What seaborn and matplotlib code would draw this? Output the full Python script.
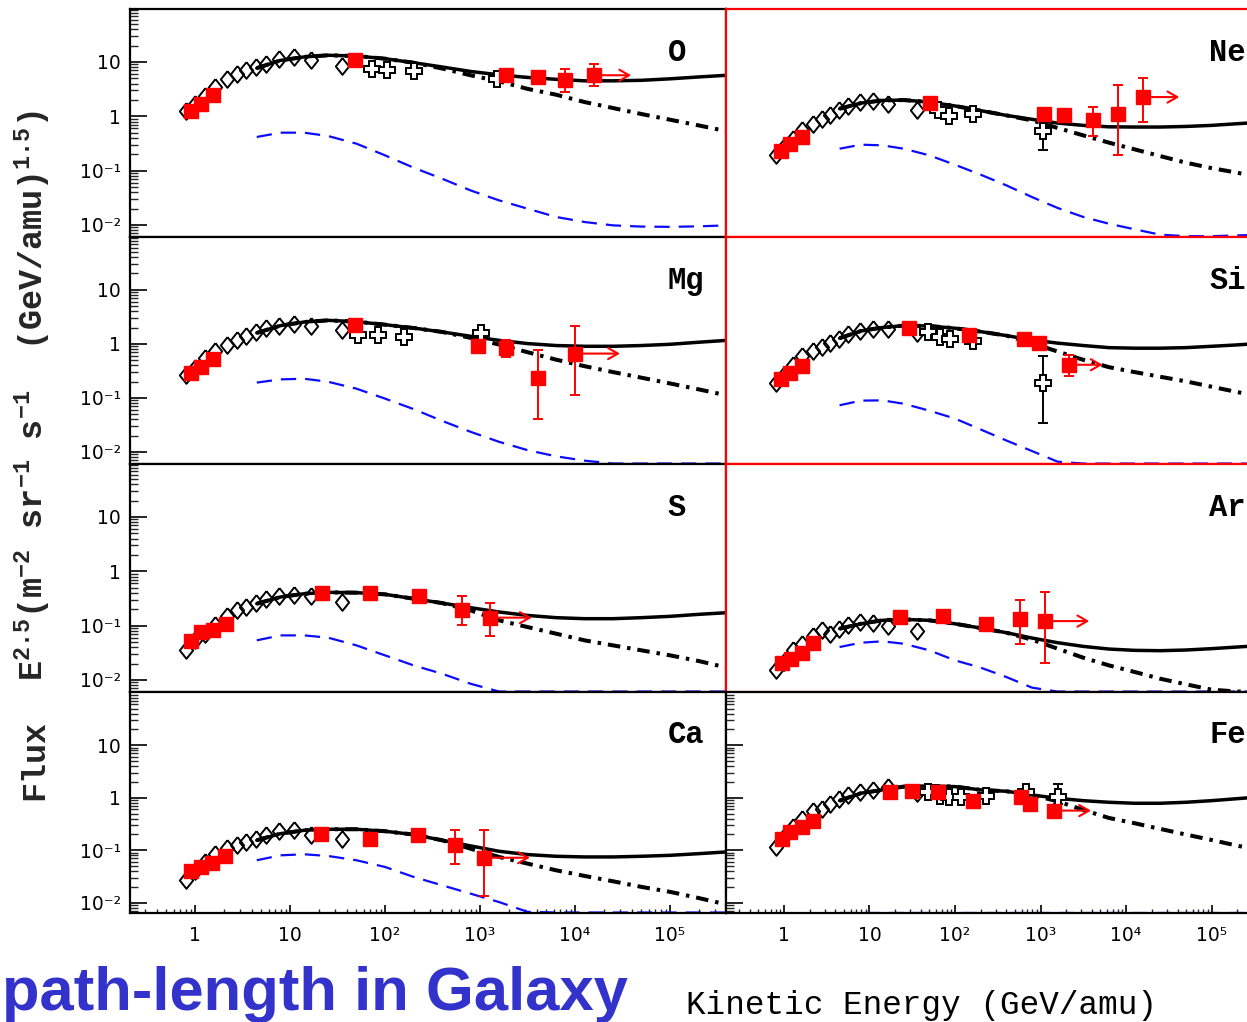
import numpy as np
import matplotlib
matplotlib.use("Agg")
import matplotlib.pyplot as plt
import seaborn as sns
from matplotlib.ticker import LogLocator, NullFormatter

sns.set_theme(style="ticks")
plt.rcParams["font.family"] = ["DejaVu Sans"]
plt.rcParams["mathtext.fontset"] = "custom"
plt.rcParams["mathtext.rm"] = "Liberation Mono:bold"
plt.rcParams["mathtext.it"] = "Liberation Mono:bold"
plt.rcParams["mathtext.bf"] = "Liberation Mono:bold"
plt.rcParams["lines.scale_dashes"] = False

# ---------------- data ----------------
diamond_energy = [0.81, 1.0, 1.26, 1.62, 2.19, 2.75, 3.47, 4.42, 5.57, 7.71, 10.96, 16.5, 35.5]
model_energy = [4.47, 7.94, 14.1, 25.1, 50.1, 100, 200, 398, 794, 1585, 3162, 6310,
                12590, 25120, 50120, 100000, 199500, 398100]

x_tick_values = [1, 10, 100, 1000, 10000, 100000]
x_tick_labels = ["1", "10", "10²", "10³", "10⁴", "10⁵"]
y_tick_values = [0.01, 0.1, 1, 10]
y_tick_labels = ["10⁻²", "10⁻¹", "1", "10"]

# O
O_diam = [1.23, 1.7, 2.37, 3.47, 4.9, 6.1, 7.0, 8.1, 9.3, 11.2, 12.4, 10.7, 8.6]
O_total = [7.7, 10.7, 12.4, 13.3, 12.9, 11.5, 9.7, 8.1, 6.7, 5.8, 5.2, 4.8, 4.5, 4.5, 4.6, 4.9, 5.3, 5.7]
O_nohalo = [7.7, 10.7, 12.4, 13.3, 12.9, 11.5, 9.7, 7.6, 5.7, 4.4, 3.2, 2.5, 1.83, 1.42, 1.10, 0.865, 0.68, 0.53]
O_second = [0.416, 0.499, 0.499, 0.434, 0.313, 0.191, 0.113, 0.071, 0.0432, 0.0283, 0.0199, 0.0140,
            0.0113, 0.0098, 0.0093, 0.0092, 0.0094, 0.0098]
O_sqE = [0.91, 1.15, 1.56, 48, 1870, 4040, 7850, 15800]
O_sqF = [1.23, 1.7, 2.5, 10.7, 5.8, 5.4, 4.7, 5.7]
O_sqLo = [np.nan, np.nan, np.nan, np.nan, np.nan, np.nan, 2.8, 3.6]
O_sqHi = [np.nan, np.nan, np.nan, np.nan, np.nan, np.nan, 7.5, 9.3]
O_arrow_to = 39000
O_crE = [73, 105, 202, 1520]
O_crF = [7.5, 7.0, 6.8, 4.9]
O_crLo = [np.nan, np.nan, np.nan, np.nan]
O_crHi = [np.nan, np.nan, np.nan, np.nan]

# Ne
Ne_diam = [0.191, 0.27, 0.386, 0.55, 0.73, 0.90, 1.07, 1.29, 1.55, 1.83, 1.88, 1.71, 1.32]
Ne_total = [1.38, 1.75, 1.96, 1.99, 1.83, 1.55, 1.27, 1.04, 0.88, 0.75, 0.68, 0.64, 0.634, 0.634, 0.65, 0.68, 0.73, 0.78]
Ne_nohalo = [1.38, 1.75, 1.96, 1.99, 1.83, 1.55, 1.27, 1.04, 0.84, 0.61, 0.445, 0.327, 0.246, 0.185, 0.14, 0.111, 0.0915, 0.073]
Ne_second = [0.253, 0.30, 0.292, 0.253, 0.191, 0.128, 0.084, 0.0535, 0.0326, 0.0205, 0.014, 0.0105,
             0.0083, 0.0066, 0.0062, 0.0062, 0.0064, 0.0066]
Ne_sqE = [0.92, 1.17, 1.63, 51, 1110, 1900, 4150, 8130, 15950]
Ne_sqF = [0.226, 0.313, 0.415, 1.78, 1.12, 1.07, 0.84, 1.12, 2.26]
Ne_sqLo = [np.nan, np.nan, np.nan, np.nan, np.nan, np.nan, 0.427, 0.196, 0.78]
Ne_sqHi = [np.nan, np.nan, np.nan, np.nan, np.nan, np.nan, 1.48, 3.7, 5.07]
Ne_arrow_to = 42000
Ne_crE = [63, 86, 161, 1060]
Ne_crF = [1.29, 1.01, 1.12, 0.527]
Ne_crLo = [np.nan, np.nan, np.nan, 0.236]
Ne_crHi = [np.nan, np.nan, np.nan, 0.84]

# Mg
Mg_diam = [0.26, 0.36, 0.55, 0.73, 0.97, 1.16, 1.38, 1.64, 1.96, 2.17, 2.36, 2.11, 1.78]
Mg_total = [1.59, 2.17, 2.53, 2.72, 2.57, 2.26, 1.96, 1.66, 1.38, 1.16, 1.01, 0.93, 0.90, 0.90, 0.93, 0.98, 1.07, 1.16]
Mg_nohalo = [1.59, 2.17, 2.53, 2.72, 2.57, 2.26, 1.96, 1.66, 1.29, 0.97, 0.70, 0.51, 0.386, 0.30, 0.236, 0.185, 0.144, 0.111]
Mg_second = [0.192, 0.22, 0.226, 0.199, 0.148, 0.097, 0.062, 0.0376, 0.0236, 0.0154, 0.0108, 0.0083,
             0.0069, 0.0061, 0.0061, 0.0061, 0.0061, 0.0061]
Mg_sqE = [0.91, 1.15, 1.56, 48, 959, 1870, 4040, 10000]
Mg_sqF = [0.29, 0.37, 0.53, 2.26, 0.93, 0.84, 0.236, 0.66]
Mg_sqLo = [np.nan, np.nan, np.nan, np.nan, np.nan, 0.57, 0.041, 0.111]
Mg_sqHi = [np.nan, np.nan, np.nan, np.nan, np.nan, 1.2, 0.78, 2.1]
Mg_arrow_to = 29700
Mg_crE = [52, 85, 157, 1030]
Mg_crF = [1.48, 1.48, 1.34, 1.59]
Mg_crLo = [np.nan, np.nan, np.nan, np.nan]
Mg_crHi = [np.nan, np.nan, np.nan, np.nan]

# Si
Si_diam = [0.188, 0.268, 0.40, 0.583, 0.741, 0.89, 1.05, 1.23, 1.50, 1.73, 1.88, 1.88, 1.57]
Si_total = [1.27, 1.73, 2.0, 2.17, 2.14, 1.94, 1.68, 1.42, 1.18, 1.03, 0.93, 0.85, 0.83, 0.83, 0.85, 0.90, 0.955, 1.03]
Si_nohalo = [1.27, 1.73, 2.0, 2.17, 2.14, 1.94, 1.68, 1.42, 1.03, 0.72, 0.506, 0.37, 0.30, 0.246, 0.202, 0.161, 0.128, 0.104]
Si_second = [0.073, 0.089, 0.090, 0.078, 0.058, 0.0414, 0.026, 0.0163, 0.0104, 0.0066, 0.0061, 0.0061,
             0.0061, 0.0061, 0.0061, 0.0061, 0.0061, 0.0061]
Si_sqE = [0.92, 1.17, 1.63, 28.7, 144, 647, 968, 2135]
Si_sqF = [0.226, 0.288, 0.381, 1.94, 1.46, 1.23, 1.03, 0.41]
Si_sqLo = [np.nan, np.nan, np.nan, np.nan, np.nan, np.nan, np.nan, 0.25]
Si_sqHi = [np.nan, np.nan, np.nan, np.nan, np.nan, np.nan, np.nan, 0.625]
Si_arrow_to = 5330
Si_crE = [48, 66, 87, 164, 1060]
Si_crF = [1.68, 1.36, 1.23, 1.13, 0.188]
Si_crLo = [np.nan, np.nan, np.nan, np.nan, 0.0345]
Si_crHi = [np.nan, np.nan, np.nan, np.nan, 0.608]

# S
S_diam = [0.0349, 0.0534, 0.071, 0.101, 0.148, 0.191, 0.22, 0.26, 0.313, 0.345, 0.36, 0.345, 0.272]
S_total = [0.253, 0.336, 0.386, 0.409, 0.404, 0.376, 0.313, 0.26, 0.214, 0.178, 0.154, 0.14, 0.134, 0.134, 0.14, 0.148, 0.161, 0.173]
S_nohalo = [0.253, 0.336, 0.386, 0.409, 0.404, 0.376, 0.313, 0.26, 0.191, 0.125, 0.094, 0.071, 0.0535, 0.0432, 0.035, 0.0283, 0.0223, 0.0168]
S_second = [0.0535, 0.066, 0.066, 0.060, 0.0432, 0.0283, 0.0185, 0.013, 0.0085, 0.0061, 0.0061, 0.0061,
            0.0061, 0.0061, 0.0061, 0.0061, 0.0061, 0.0061]
S_sqE = [0.91, 1.15, 1.56, 2.1, 21.8, 70, 228, 650, 1265]
S_sqF = [0.052, 0.076, 0.082, 0.105, 0.40, 0.40, 0.345, 0.196, 0.14]
S_sqLo = [np.nan, np.nan, np.nan, np.nan, np.nan, np.nan, np.nan, 0.104, 0.064]
S_sqHi = [np.nan, np.nan, np.nan, np.nan, np.nan, np.nan, np.nan, 0.345, 0.26]
S_arrow_to = 3500
S_crE = []
S_crF = []
S_crLo = []
S_crHi = []

# Ar
Ar_diam = [0.015, 0.0213, 0.035, 0.0464, 0.0634, 0.0817, 0.071, 0.0877, 0.101, 0.116, 0.111, 0.097, 0.079]
Ar_total = [0.0877, 0.108, 0.125, 0.130, 0.125, 0.108, 0.090, 0.074, 0.059, 0.0484, 0.0414, 0.037, 0.035, 0.0345, 0.0355, 0.0376, 0.0403, 0.0432]
Ar_nohalo = [0.0877, 0.108, 0.125, 0.130, 0.125, 0.108, 0.090, 0.074, 0.055, 0.0376, 0.0256, 0.0185, 0.014, 0.0105, 0.0083, 0.0066, 0.0061, 0.0061]
Ar_second = [0.0403, 0.0484, 0.0513, 0.0464, 0.035, 0.0229, 0.0168, 0.0113, 0.0072, 0.0061, 0.0061, 0.0061,
             0.0061, 0.0061, 0.0061, 0.0061, 0.0061, 0.0061]
Ar_sqE = [0.94, 1.21, 1.63, 2.2, 22.7, 73, 230, 575, 1140]
Ar_sqF = [0.0205, 0.0246, 0.0312, 0.0478, 0.144, 0.148, 0.105, 0.134, 0.121]
Ar_sqLo = [np.nan, np.nan, np.nan, np.nan, np.nan, np.nan, np.nan, 0.0464, 0.0205]
Ar_sqHi = [np.nan, np.nan, np.nan, np.nan, np.nan, np.nan, np.nan, 0.30, 0.415]
Ar_arrow_to = 3720
Ar_crE = []
Ar_crF = []
Ar_crLo = []
Ar_crHi = []

# Ca
Ca_diam = [0.0268, 0.040, 0.060, 0.085, 0.11, 0.128, 0.144, 0.167, 0.199, 0.23, 0.24, 0.199, 0.167]
Ca_total = [0.155, 0.207, 0.24, 0.251, 0.251, 0.23, 0.199, 0.155, 0.121, 0.0955, 0.0826, 0.0767, 0.0745, 0.0745, 0.0767, 0.080, 0.086, 0.093]
Ca_nohalo = [0.155, 0.207, 0.24, 0.251, 0.251, 0.23, 0.199, 0.155, 0.107, 0.0745, 0.0556, 0.0415, 0.0324, 0.0256, 0.020, 0.0161, 0.0123, 0.0092]
Ca_second = [0.0644, 0.080, 0.0837, 0.0778, 0.0644, 0.048, 0.031, 0.0215, 0.0149, 0.0103, 0.0067, 0.0065,
             0.0065, 0.0065, 0.0065, 0.0065, 0.0065, 0.0065]
Ca_sqE = [0.91, 1.15, 1.52, 2.07, 21.4, 70, 221, 550, 1100]
Ca_sqF = [0.0397, 0.048, 0.058, 0.0767, 0.207, 0.162, 0.199, 0.124, 0.072]
Ca_sqLo = [np.nan, np.nan, np.nan, np.nan, np.nan, np.nan, np.nan, 0.0556, 0.0135]
Ca_sqHi = [np.nan, np.nan, np.nan, np.nan, np.nan, np.nan, np.nan, 0.24, 0.24]
Ca_arrow_to = 3350
Ca_crE = []
Ca_crF = []
Ca_crLo = []
Ca_crHi = []

# Fe
Fe_diam = [0.114, 0.177, 0.282, 0.395, 0.552, 0.612, 0.762, 0.95, 1.15, 1.27, 1.41, 1.63, 1.22]
Fe_total = [0.88, 1.22, 1.41, 1.63, 1.68, 1.63, 1.41, 1.33, 1.13, 0.977, 0.88, 0.82, 0.785, 0.785, 0.82, 0.88, 0.96, 1.05]
Fe_nohalo = [0.88, 1.22, 1.41, 1.63, 1.68, 1.63, 1.41, 1.33, 1.13, 0.857, 0.586, 0.412, 0.327, 0.255, 0.199, 0.157, 0.122, 0.098]
Fe_second = [0.0065, 0.0065, 0.0065, 0.0065, 0.0065, 0.0065, 0.0065, 0.0065, 0.0065, 0.0065, 0.0065, 0.0065,
             0.0065, 0.0065, 0.0065, 0.0065, 0.0065, 0.0065]
Fe_sqE = [0.94, 1.17, 1.63, 2.2, 17.4, 31, 63, 164, 592, 754, 1450]
Fe_sqF = [0.164, 0.22, 0.282, 0.366, 1.27, 1.37, 1.27, 0.857, 1.05, 0.762, 0.569]
Fe_sqLo = [np.nan, np.nan, np.nan, np.nan, np.nan, np.nan, np.nan, np.nan, np.nan, np.nan, 0.50]
Fe_sqHi = [np.nan, np.nan, np.nan, np.nan, np.nan, np.nan, np.nan, np.nan, np.nan, np.nan, 0.65]
Fe_arrow_to = 3900
Fe_crE = [48, 66, 86, 117, 230, 676, 1590]
Fe_crF = [1.27, 1.10, 1.02, 1.02, 1.10, 1.27, 1.05]
Fe_crLo = [np.nan, np.nan, np.nan, np.nan, np.nan, np.nan, 0.75]
Fe_crHi = [np.nan, np.nan, np.nan, np.nan, np.nan, np.nan, 1.8]

panels = [
    ("O", 0, 0, O_diam, O_total, O_nohalo, O_second, O_sqE, O_sqF, O_sqLo, O_sqHi, O_arrow_to, O_crE, O_crF, O_crLo, O_crHi),
    ("Mg", 0, 1, Mg_diam, Mg_total, Mg_nohalo, Mg_second, Mg_sqE, Mg_sqF, Mg_sqLo, Mg_sqHi, Mg_arrow_to, Mg_crE, Mg_crF, Mg_crLo, Mg_crHi),
    ("S", 0, 2, S_diam, S_total, S_nohalo, S_second, S_sqE, S_sqF, S_sqLo, S_sqHi, S_arrow_to, S_crE, S_crF, S_crLo, S_crHi),
    ("Ca", 0, 3, Ca_diam, Ca_total, Ca_nohalo, Ca_second, Ca_sqE, Ca_sqF, Ca_sqLo, Ca_sqHi, Ca_arrow_to, Ca_crE, Ca_crF, Ca_crLo, Ca_crHi),
    ("Ne", 1, 0, Ne_diam, Ne_total, Ne_nohalo, Ne_second, Ne_sqE, Ne_sqF, Ne_sqLo, Ne_sqHi, Ne_arrow_to, Ne_crE, Ne_crF, Ne_crLo, Ne_crHi),
    ("Si", 1, 1, Si_diam, Si_total, Si_nohalo, Si_second, Si_sqE, Si_sqF, Si_sqLo, Si_sqHi, Si_arrow_to, Si_crE, Si_crF, Si_crLo, Si_crHi),
    ("Ar", 1, 2, Ar_diam, Ar_total, Ar_nohalo, Ar_second, Ar_sqE, Ar_sqF, Ar_sqLo, Ar_sqHi, Ar_arrow_to, Ar_crE, Ar_crF, Ar_crLo, Ar_crHi),
    ("Fe", 1, 3, Fe_diam, Fe_total, Fe_nohalo, Fe_second, Fe_sqE, Fe_sqF, Fe_sqLo, Fe_sqHi, Fe_arrow_to, Fe_crE, Fe_crF, Fe_crLo, Fe_crHi),
]

# ---------------- layout ----------------
W, H = 1247, 1022
fig = plt.figure(figsize=(W / 100, H / 100), dpi=100, facecolor="white")

col_left = [130, 726]
col_width = [596, 536]
col_xlim = [(10 ** -0.684, 10 ** 5.589), (10 ** -0.678, 10 ** 5.59)]
row_top = [9, 237, 464, 692]
row_bot = [237, 464, 692, 913]
row_ylim = [(10 ** -2.223, 10 ** 1.976)] * 3 + [(10 ** -2.196, 10 ** 2.015)]

DIAMOND = [(0, 1), (0.8, 0), (0, -1), (-0.8, 0), (0, 1)]


def draw(ax, diam, total, nohalo, second, sqE, sqF, sqLo, sqHi, arrow_to, crE, crF, crLo, crHi):
    sns.lineplot(x=model_energy, y=second, ax=ax, color="#0b0bff", linewidth=1.6,
                 linestyle=(0, (11, 6.5)), estimator=None, sort=False, zorder=2)
    sns.lineplot(x=model_energy, y=nohalo, ax=ax, color="black", linewidth=2.9,
                 linestyle=(0, (9, 5, 2.5, 5)), estimator=None, sort=False, zorder=3)
    sns.lineplot(x=model_energy, y=total, ax=ax, color="black", linewidth=2.5,
                 estimator=None, sort=False, zorder=4)
    ax.plot(diamond_energy, diam, ls="none", marker=DIAMOND, ms=12, mfc="none",
            mec="black", mew=1.4, zorder=5)
    if len(crE):
        E = np.array(crE); F = np.array(crF); lo = np.array(crLo); hi = np.array(crHi)
        m = ~np.isnan(lo)
        if m.any():
            ax.errorbar(E[m], F[m], yerr=[F[m] - lo[m], hi[m] - F[m]], fmt="none",
                        ecolor="black", elinewidth=1.4, capsize=3.5, capthick=1.4, zorder=5.5)
        ax.plot(E, F, ls="none", marker="P", ms=11, mfc="white", mec="black", mew=1.4, zorder=6)
    ax.annotate("", xy=(arrow_to, sqF[-1]), xytext=(sqE[-1], sqF[-1]),
                arrowprops=dict(arrowstyle="->,head_length=0.7,head_width=0.4", color="red",
                                lw=1.5, shrinkA=0, shrinkB=0, mutation_scale=10), zorder=6.5)
    E = np.array(sqE); F = np.array(sqF); lo = np.array(sqLo); hi = np.array(sqHi)
    m = ~np.isnan(lo)
    if m.any():
        ax.errorbar(E[m], F[m], yerr=[F[m] - lo[m], hi[m] - F[m]], fmt="none",
                    ecolor="red", elinewidth=1.4, capsize=3.5, capthick=1.4, zorder=6.8)
    ax.plot(E, F, ls="none", marker="s", ms=10, color="red", mec="red", zorder=7)


for (name, col, row, *data) in panels:
    ax = fig.add_axes([col_left[col] / W, 1 - row_bot[row] / H,
                       col_width[col] / W, (row_bot[row] - row_top[row]) / H])
    ax.set_facecolor("white")
    ax.set_xscale("log")
    ax.set_yscale("log")
    draw(ax, *data)
    ax.set_xlim(*col_xlim[col])
    ax.set_ylim(*row_ylim[row])
    ax.set_xlabel("")
    ax.set_ylabel("")

    red_box = (col == 1 and row < 3)
    for sp in ax.spines.values():
        sp.set_color("red" if red_box else "black")
        sp.set_linewidth(1.6)
        sp.set_zorder(8)

    ax.set_yticks(y_tick_values)
    ax.set_yticklabels(y_tick_labels)
    ax.yaxis.set_minor_locator(LogLocator(base=10, subs=np.arange(2, 10), numticks=40))
    ax.yaxis.set_minor_formatter(NullFormatter())
    ax.set_xticks(x_tick_values)
    ax.set_xticklabels(x_tick_labels)
    ax.xaxis.set_minor_locator(LogLocator(base=10, subs=np.arange(2, 10), numticks=40))
    ax.xaxis.set_minor_formatter(NullFormatter())

    if red_box:
        ax.tick_params(axis="both", which="both", left=False, right=False, top=False,
                       bottom=False, labelleft=False, labelbottom=False)
    else:
        ax.tick_params(axis="y", which="major", direction="in", length=12, width=1.2,
                       left=True, right=False, labelleft=(col == 0), labelsize=13.5,
                       pad=6.5, colors="black")
        ax.tick_params(axis="y", which="minor", direction="in", length=6, width=1.0,
                       left=True, right=False)
        if row == 3:
            ax.tick_params(axis="x", which="major", direction="in", length=5.5, width=1.2,
                           bottom=True, top=False, labelbottom=True, labelsize=13.5,
                           pad=9, colors="black")
            ax.tick_params(axis="x", which="minor", direction="in", length=3, width=1.0,
                           bottom=True, top=False)
        else:
            ax.tick_params(axis="x", which="both", bottom=False, top=False, labelbottom=False)

    ax.text(0.902, 0.805, name, transform=ax.transAxes, ha="left", va="center",
            fontfamily="Liberation Mono", fontweight="bold", fontsize=22, color="black",
            zorder=9)

# ---------------- figure texts ----------------
fig.text(0.028, 1 - 760 / H, "Flux", rotation=90, ha="center", va="center",
         fontfamily="Liberation Mono", fontweight="bold", fontsize=24)
fig.text(0.026, 1 - 395 / H,
         r"E$^{2.5}$(m$^{-2}$ sr$^{-1}$ s$^{-1}$  (GeV/amu)$^{1.5}$)",
         rotation=90, ha="center", va="center",
         fontfamily="Liberation Mono", fontweight="bold", fontsize=24)
fig.text(921 / W, 1 - 1005 / H, "Kinetic Energy (GeV/amu)", ha="center", va="center",
         fontfamily="Liberation Mono", fontsize=23.5, color="black")
fig.text(628 / W, 1 - 1010 / H, "path-length in Galaxy", ha="right", va="baseline",
         fontfamily="Liberation Sans", fontweight="bold", fontsize=44.3, color="#3333cc")

fig.savefig("out.png", dpi=100, facecolor="white")
